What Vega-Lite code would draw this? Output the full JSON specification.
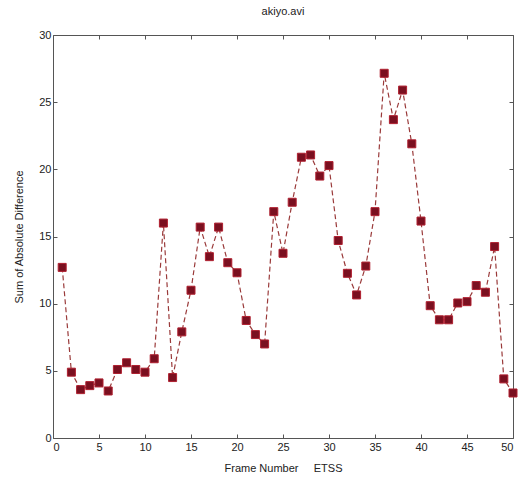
{
  "$schema": "https://vega.github.io/schema/vega-lite/v6.json",
  "width": 460,
  "height": 403,
  "autosize": {"type": "none"},
  "padding": {"left": 53, "top": 35, "right": 6, "bottom": 46},
  "background": "white",
  "title": {"text": "akiyo.avi", "fontSize": 11, "font": "Liberation Sans", "fontWeight": "normal", "color": "#222", "offset": 12},
  "config": {
    "view": {"stroke": "#555", "strokeWidth": 1},
    "axis": {"labelFont": "Liberation Sans", "titleFont": "Liberation Sans", "labelFontSize": 11, "titleFontSize": 11, "titleFontWeight": "normal", "labelColor": "#222", "titleColor": "#222", "grid": false, "domain": false, "tickColor": "#555", "tickSize": -4}
  },
  "data": {"values": [
    {"frame": 1, "sad": 12.7}, {"frame": 2, "sad": 4.9}, {"frame": 3, "sad": 3.6}, {"frame": 4, "sad": 3.9}, {"frame": 5, "sad": 4.1},
    {"frame": 6, "sad": 3.5}, {"frame": 7, "sad": 5.1}, {"frame": 8, "sad": 5.6}, {"frame": 9, "sad": 5.1}, {"frame": 10, "sad": 4.9},
    {"frame": 11, "sad": 5.9}, {"frame": 12, "sad": 16.0}, {"frame": 13, "sad": 4.5}, {"frame": 14, "sad": 7.9}, {"frame": 15, "sad": 11.0},
    {"frame": 16, "sad": 15.7}, {"frame": 17, "sad": 13.5}, {"frame": 18, "sad": 15.7}, {"frame": 19, "sad": 13.05}, {"frame": 20, "sad": 12.3},
    {"frame": 21, "sad": 8.75}, {"frame": 22, "sad": 7.7}, {"frame": 23, "sad": 7.0}, {"frame": 24, "sad": 16.85}, {"frame": 25, "sad": 13.75},
    {"frame": 26, "sad": 17.55}, {"frame": 27, "sad": 20.9}, {"frame": 28, "sad": 21.07}, {"frame": 29, "sad": 19.5}, {"frame": 30, "sad": 20.28},
    {"frame": 31, "sad": 14.7}, {"frame": 32, "sad": 12.26}, {"frame": 33, "sad": 10.65}, {"frame": 34, "sad": 12.8}, {"frame": 35, "sad": 16.85},
    {"frame": 36, "sad": 27.15}, {"frame": 37, "sad": 23.7}, {"frame": 38, "sad": 25.9}, {"frame": 39, "sad": 21.9}, {"frame": 40, "sad": 16.15},
    {"frame": 41, "sad": 9.85}, {"frame": 42, "sad": 8.8}, {"frame": 43, "sad": 8.8}, {"frame": 44, "sad": 10.05}, {"frame": 45, "sad": 10.15},
    {"frame": 46, "sad": 11.35}, {"frame": 47, "sad": 10.85}, {"frame": 48, "sad": 14.25}, {"frame": 49, "sad": 4.4}, {"frame": 50, "sad": 3.35}
  ]},
  "layer": [
    {
      "mark": {"type": "line", "color": "#9a3a3a", "strokeWidth": 1.2, "strokeDash": [5, 3]},
      "encoding": {
        "x": {"field": "frame", "type": "quantitative", "scale": {"domain": [0, 50], "nice": false, "zero": false},
              "axis": {"orient": "bottom", "values": [0,5,10,15,20,25,30,35,40,45,50], "title": "Frame Number\u00a0\u00a0\u00a0\u00a0\u00a0ETSS", "labelPadding": 7, "titlePadding": 10}},
        "y": {"field": "sad", "type": "quantitative", "scale": {"domain": [0, 30], "nice": false},
              "axis": {"orient": "left", "values": [0,5,10,15,20,25,30], "title": "Sum of Absolute Difference", "labelPadding": 6, "titlePadding": 14}}
      }
    },
    {
      "mark": {"type": "square", "size": 64, "filled": true, "color": "#7a1020", "stroke": "#b02030", "strokeWidth": 1, "opacity": 1},
      "encoding": {
        "x": {"field": "frame", "type": "quantitative",
              "axis": {"orient": "top", "values": [0,5,10,15,20,25,30,35,40,45,50], "labels": false, "title": null}},
        "y": {"field": "sad", "type": "quantitative",
              "axis": {"orient": "right", "values": [0,5,10,15,20,25,30], "labels": false, "title": null}}
      }
    }
  ]
}
